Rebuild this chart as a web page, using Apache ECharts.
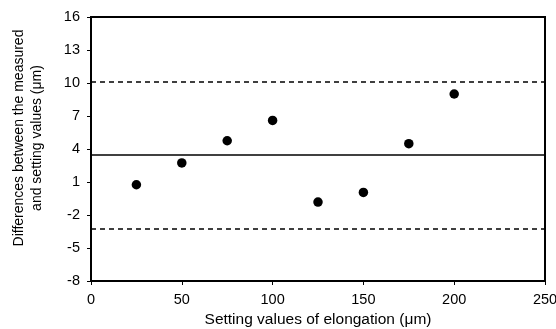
<!DOCTYPE html>
<html><head><meta charset="utf-8">
<script src="https://cdn.jsdelivr.net/npm/echarts@6/dist/echarts.min.js"></script>
<style>html,body{margin:0;padding:0;background:#fff}#c{width:556px;height:329px}</style>
</head><body><div id="c"></div>
<script>
var settingValues = [25, 50, 75, 100, 125, 150, 175, 200];
var differences = [0.75, 2.73, 4.75, 6.6, -0.82, 0.05, 4.48, 9.0];
var meanDiff = 3.44;
var upperLimit = 10.1;
var lowerLimit = -3.22;
var xTicks = [0, 50, 100, 150, 200, 250];
var yTicks = [-8, -5, -2, 1, 4, 7, 10, 13, 16];

var chart = echarts.init(document.getElementById('c'), null, {renderer: 'canvas'});
var font = 'Liberation Sans, Arial, sans-serif';
var pts = settingValues.map(function (x, i) { return [x, differences[i]]; });
chart.setOption({
  animation: false,
  backgroundColor: '#fff',
  grid: {left: 91, right: 11, top: 17, bottom: 48, containLabel: false, outerBoundsMode: 'none',
         show: true, borderColor: '#000', borderWidth: 2, backgroundColor: 'transparent'},
  xAxis: {
    type: 'value', min: xTicks[0], max: xTicks[xTicks.length - 1], interval: 50,
    name: 'Setting values of elongation (μm)', nameLocation: 'middle', nameGap: 31,
    nameTextStyle: {fontFamily: font, fontSize: 15.5, color: '#000'},
    axisLine: {show: true, onZero: false, lineStyle: {color: '#000', width: 2}},
    axisTick: {show: true, inside: false, length: 4, lineStyle: {color: '#000', width: 1}},
    axisLabel: {fontFamily: font, fontSize: 14.5, color: '#000', margin: 11},
    splitLine: {show: false}
  },
  yAxis: {
    type: 'value', min: yTicks[0], max: yTicks[yTicks.length - 1], interval: 3,
    name: 'Differences between the measured\nand setting values (μm)', nameLocation: 'middle', nameGap: 45,
    nameTextStyle: {fontFamily: font, fontSize: 14, color: '#000', lineHeight: 18, padding: [0, 0, 0, 22]},
    axisLine: {show: true, onZero: false, lineStyle: {color: '#000', width: 2}},
    axisTick: {show: true, inside: false, length: 4, lineStyle: {color: '#000', width: 1}},
    axisLabel: {fontFamily: font, fontSize: 14.5, color: '#000', margin: 11},
    splitLine: {show: false}
  },
  series: [{
    type: 'scatter',
    data: pts,
    symbol: 'circle',
    symbolSize: 9.5,
    itemStyle: {color: '#000', opacity: 1},
    z: 5,
    markLine: {
      silent: true,
      symbol: ['none', 'none'],
      label: {show: false},
      data: [
        {yAxis: meanDiff, lineStyle: {type: 'solid', color: '#000', width: 1.7}},
        {yAxis: upperLimit, lineStyle: {type: [5, 4], color: '#000', width: 1.5}},
        {yAxis: lowerLimit, lineStyle: {type: [5, 4], color: '#000', width: 1.5}}
      ]
    }
  }]
});
</script></body></html>
